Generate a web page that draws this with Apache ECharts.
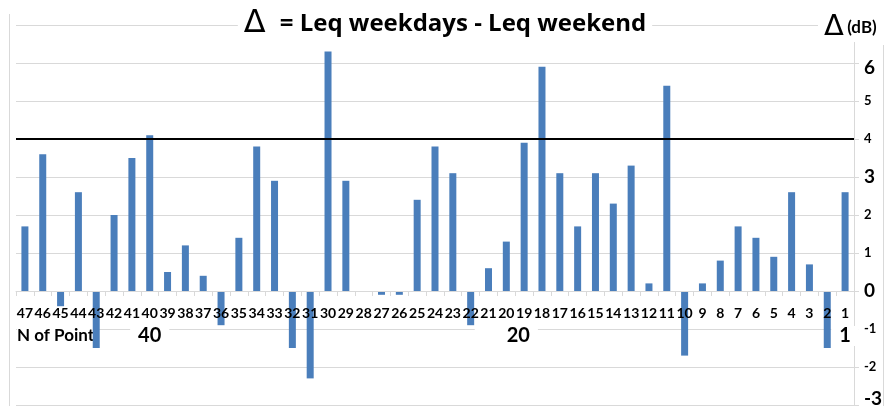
<!DOCTYPE html>
<html>
<head>
<meta charset="utf-8">
<script src="https://cdn.jsdelivr.net/npm/echarts@6/dist/echarts.min.js"></script>
<style>
  html, body { margin: 0; padding: 0; background: #fff; }
  #chart { width: 890px; height: 406px; }
</style>
</head>
<body>
<div id="chart"></div>
<script>
// point numbers, shown from 47 down to 1
const categories = ['47','46','45','44','43','42','41','40','39','38','37','36','35','34','33','32','31','30','29','28','27','26','25','24','23','22','21','20','19','18','17','16','15','14','13','12','11','10','9','8','7','6','5','4','3','2','1'];
// delta = Leq weekdays - Leq weekend (dB)
const deltaValues = [1.7,3.6,-0.4,2.6,-1.5,2.0,3.5,4.1,0.5,1.2,0.4,-0.9,1.4,3.8,2.9,-1.5,-2.3,6.3,2.9,0,-0.1,-0.1,2.4,3.8,3.1,-0.9,0.6,1.3,3.9,5.9,3.1,1.7,3.1,2.3,3.3,0.2,5.4,-1.7,0.2,0.8,1.7,1.4,0.9,2.6,0.7,-1.5,2.6];
const pointMarks = ['40','20','1'];
const bigTicks = [6,3,0,-3];
const threshold = 4;
const yMin = -3;

const font = 'Lato, "Open Sans", sans-serif';
const titleFont = '"Open Sans", Lato, sans-serif';
const gridColor = '#d9d9d9';

const chart = echarts.init(document.getElementById('chart'));

const option = {
  animation: false,
  title: {
    text: '{d|Δ}= Leq weekdays - Leq weekend',
    left: 'center',
    top: 8,
    padding: [0, 6],
    backgroundColor: '#fff',
    textStyle: {
      fontFamily: titleFont,
      fontSize: 24,
      fontWeight: 'bold',
      color: '#000',
      rich: {
        d: { fontFamily: '"DejaVu Sans", sans-serif', fontSize: 32, fontWeight: 'normal', color: '#000', padding: [0, 14, 0, 0] }
      }
    }
  },
  grid: { left: 16, right: 36, top: 25, bottom: 1, containLabel: false, outerBoundsMode: 'none' },
  xAxis: {
    type: 'category',
    data: categories,
    z: 3,
    offset: 0,
    axisLine: { onZero: false, lineStyle: { color: gridColor, width: 1 } },
    axisTick: { show: true, length: 5, lineStyle: { color: gridColor } },
    axisLabel: {
      interval: 0,
      margin: 13,
      formatter: function (v) {
        if (pointMarks.indexOf(v) >= 0) {
          return '{n|' + v + '}\n{' + (v === '20' ? 'b20' : 'b') + '|' + v + '}';
        }
        return '{n|' + v + '}';
      },
      rich: {
        n: { fontFamily: font, fontSize: 14, fontWeight: 'bold', color: '#000', lineHeight: 18 },
        b: { fontFamily: font, fontSize: 20, fontWeight: 'bold', color: '#000', lineHeight: 28,
             backgroundColor: '#fff', padding: [0, 8] },
        b20: { fontFamily: font, fontSize: 20, fontWeight: 'bold', color: '#000', lineHeight: 28,
               backgroundColor: '#fff', padding: [0, 8, 0, 32] }
      }
    }
  },
  yAxis: {
    type: 'value',
    position: 'right',
    min: yMin,
    max: 7,
    interval: 1,
    axisLine: { show: true, lineStyle: { color: gridColor } },
    axisTick: { show: true, length: 5, lineStyle: { color: gridColor } },
    splitLine: { lineStyle: { color: gridColor, width: 1 } },
    axisLabel: {
      margin: 10,
      formatter: function (v) {
        if (v === 7) return '';
        if (v === 6) return '{top|' + v + '}';
        if (v === -3) return '{bot|' + v + '}';
        return bigTicks.indexOf(v) >= 0 ? '{big|' + v + '}' : '{sm|' + v + '}';
      },
      rich: {
        big: { fontFamily: font, fontSize: 19, fontWeight: 'bold', color: '#000' },
        top: { fontFamily: font, fontSize: 19, fontWeight: 'bold', color: '#000', padding: [10, 0, 0, 0] },
        bot: { fontFamily: font, fontSize: 19, fontWeight: 'bold', color: '#000', padding: [0, 0, 12, 0] },
        sm: { fontFamily: font, fontSize: 13, fontWeight: 'bold', color: '#000' }
      }
    }
  },
  graphic: [
    { type: 'line', z: 50, shape: { x1: 9.5, y1: 14, x2: 9.5, y2: 406 }, style: { stroke: gridColor, lineWidth: 1 } },
    { type: 'line', z: 50, shape: { x1: 883.5, y1: 45, x2: 883.5, y2: 406 }, style: { stroke: gridColor, lineWidth: 1 } },
    {
      type: 'text', z: 1, left: 17, top: 327,
      style: { text: 'N of Point', fontFamily: font, fontSize: 17, fontWeight: 'bold', fill: '#000',
               backgroundColor: '#fff', padding: [0, 4, 0, 0] }
    },
    {
      type: 'text', z: 100, left: 818, top: 13,
      style: {
        text: '{d|Δ} {u|(dB)}',
        backgroundColor: '#fff',
        padding: [0, 0, 0, 6],
        rich: {
          d: { fontFamily: '"DejaVu Sans", sans-serif', fontSize: 29, fill: '#000', verticalAlign: 'middle' },
          u: { fontFamily: font, fontSize: 17, fontWeight: 'bold', fill: '#000', verticalAlign: 'middle' }
        }
      }
    }
  ],
  series: [
    {
      type: 'bar',
      data: deltaValues,
      barWidth: 7,
      itemStyle: { color: '#4a7ebb' },
      markLine: {
        silent: true,
        symbol: 'none',
        label: { show: false },
        lineStyle: { color: '#000', width: 2, type: 'solid' },
        data: [{ yAxis: threshold }]
      }
    }
  ]
};

chart.setOption(option);

// put the category axis (line, ticks, labels) on the zero line
const zeroY = chart.convertToPixel({ yAxisIndex: 0 }, 0);
const bottomY = chart.convertToPixel({ yAxisIndex: 0 }, yMin);
chart.setOption({ xAxis: { offset: zeroY - bottomY } });

window.addEventListener('resize', () => { chart.resize(); });
</script>
</body>
</html>
